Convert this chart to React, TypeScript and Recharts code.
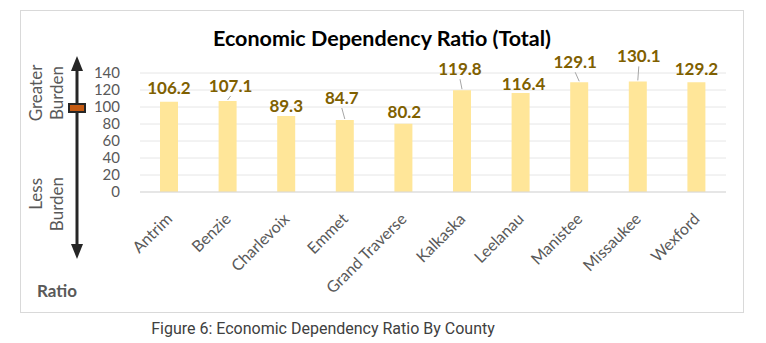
import { Bar, BarChart, CartesianGrid, LabelList, XAxis, YAxis } from "recharts"

// datos
const counties = ["Antrim", "Benzie", "Charlevoix", "Emmet", "Grand Traverse", "Kalkaska", "Leelanau", "Manistee", "Missaukee", "Wexford"]
const ratios = [106.2, 107.1, 89.3, 84.7, 80.2, 119.8, 116.4, 129.1, 130.1, 129.2]
const yTicks = [0, 20, 40, 60, 80, 100, 120, 140]

const data = counties.map((name, i) => ({ name, ratio: ratios[i] }))

// desplazamiento de cada etiqueta (px) respecto a la barra, como en el original
const LABEL_LIFT = [8, 9, 4, 16, 6, 15, 3, 14, 19, 7]
const LABEL_DX = [0, 3, 0, -3, 1, -2, 3, -4, 1, 0]

const FONT = "Lato, 'Open Sans', sans-serif"
const GRAY = "#595959"

const renderValue = (props: any) => {
    const { x, y, width, value, index } = props
    const cx = x + width / 2
    const lx = cx + LABEL_DX[index]
    const baseline = y - LABEL_LIFT[index]
    const leader = LABEL_LIFT[index] >= 9
    return (
        <g>
            {leader && <line x1={cx} y1={y - 1} x2={lx} y2={baseline + 4} stroke="#a6a6a6" strokeWidth={1} />}
            <text x={lx} y={baseline} textAnchor="middle" fill="#7f6000" fontFamily={FONT} fontWeight={700} fontSize={17}>
                {value.toFixed(1)}
            </text>
        </g>
    )
}

const CountyTick = (props: any) => {
    const { x, y, payload } = props
    const tx = x + 4
    const ty = y + 20
    return (
        <text x={tx} y={ty} transform={`rotate(-45, ${tx}, ${ty})`} textAnchor="end" fill={GRAY} fontFamily={FONT} fontSize={16}>
            {payload.value}
        </text>
    )
}

const BurdenScale = () => (
    <svg width={766} height={343} style={{ position: "absolute", left: 0, top: 0 }}>
        <text x={382} y={46} textAnchor="middle" fontFamily={FONT} fontWeight={700} fontSize={21.5} fill="#000">
            Economic Dependency Ratio (Total)
        </text>
        <line x1={77} y1={68} x2={77} y2={248} stroke="#262626" strokeWidth={3} />
        <polygon points="77,56 71,71 83,71" fill="#262626" />
        <polygon points="77,259 71,244 83,244" fill="#262626" />
        <rect x={69} y={104} width={16} height={8} fill="#c55a11" stroke="#262626" strokeWidth={2} />
        <g fill={GRAY} fontFamily={FONT} fontSize={17}>
            <text x={42} y={93} textAnchor="middle" transform="rotate(-90, 42, 93)">Greater</text>
            <text x={63} y={93} textAnchor="middle" transform="rotate(-90, 63, 93)">Burden</text>
            <text x={42} y={178} textAnchor="end" transform="rotate(-90, 42, 178)">Less</text>
            <text x={63} y={177} textAnchor="end" transform="rotate(-90, 63, 177)">Burden</text>
        </g>
        <text x={37} y={297} fill={GRAY} fontFamily={FONT} fontWeight={700} fontSize={17}>Ratio</text>
        <text x={323} y={334} textAnchor="middle" fill="#404040" fontFamily="Roboto, sans-serif" fontSize={16}>
            Figure 6: Economic Dependency Ratio By County
        </text>
    </svg>
)

export default function App() {
    return (
        <div style={{ position: "absolute", left: 0, top: 0, width: 766, height: 343, background: "#fff" }}>
            <div style={{ position: "absolute", left: 20, top: 10, width: 722, height: 301, border: "1px solid #d9d9d9" }} />
            <div style={{ position: "absolute", left: 0, top: 0 }}>
                <BarChart width={766} height={320} data={data} margin={{ top: 73, right: 40, bottom: 0, left: 100 }}>
                    <CartesianGrid vertical={false} stroke="#e6e6e6" />
                    <XAxis dataKey="name" interval={0} tickLine={false} axisLine={{ stroke: "#d9d9d9" }} tick={<CountyTick />} height={128} />
                    <YAxis
                        width={40}
                        domain={[0, 140]}
                        ticks={yTicks}
                        interval={0}
                        tickLine={false}
                        axisLine={false}
                        tickMargin={14}
                        tick={{ fill: GRAY, fontFamily: FONT, fontSize: 15 }}
                    />
                    <Bar dataKey="ratio" fill="#ffe699" barSize={18} isAnimationActive={false}>
                        <LabelList dataKey="ratio" content={renderValue} />
                    </Bar>
                </BarChart>
            </div>
            <BurdenScale />
        </div>
    )
}
